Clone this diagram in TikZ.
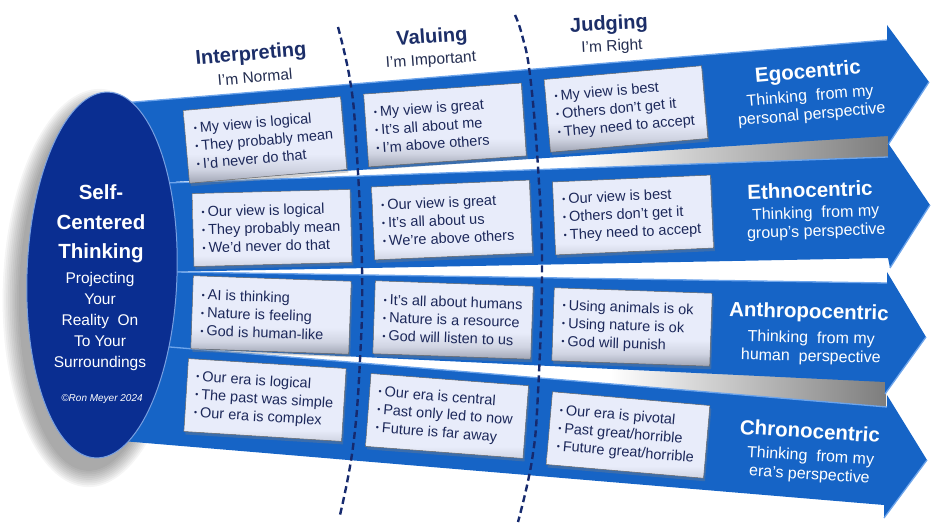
\documentclass[tikz,border=0pt]{standalone}
\usepackage{fontspec}
\setmainfont{Liberation Sans}
\usetikzlibrary{shapes.geometric,shadows}

\definecolor{navy}{RGB}{22,42,110}
\definecolor{hdrc}{RGB}{28,46,104}
\definecolor{subc}{RGB}{35,45,80}
\definecolor{arrowc}{RGB}{22,100,198}
\definecolor{arrowhl}{RGB}{110,165,235}
\definecolor{ellc}{RGB}{10,46,145}
\definecolor{ellrim}{RGB}{120,160,225}
\definecolor{celltop}{RGB}{232,236,250}
\definecolor{cellmid}{RGB}{208,212,226}
\definecolor{cellbot}{RGB}{160,165,180}
\definecolor{celltext}{RGB}{28,40,90}
\definecolor{shgray}{RGB}{125,125,125}

\pgfdeclareverticalshading{cellshadeA}{100bp}{color(0bp)=(cellbot); color(25bp)=(cellbot); color(33bp)=(cellmid); color(42bp)=(celltop); color(75bp)=(celltop); color(100bp)=(celltop)}
\pgfdeclareverticalshading{cellshadeB}{100bp}{color(0bp)=(cellmid); color(25bp)=(cellmid); color(32bp)=(celltop); color(75bp)=(celltop); color(100bp)=(celltop)}

\newcommand{\bul}{{\fontsize{9}{9}\selectfont\raisebox{1.5pt}{•}}\hspace{3pt}}
\newcommand{\cellt}[3]{\begin{minipage}{140pt}\raggedright\mbox{\bul #1}\\\mbox{\bul #2}\\\mbox{\bul #3}\end{minipage}}

\tikzset{
  cellbase/.style={draw=gray!80!black, line width=0.5pt, shade, minimum width=158pt, minimum height=73pt, inner sep=0pt, text=celltext, font=\fontsize{14.5}{18}\selectfont, drop shadow={shadow xshift=1.5pt, shadow yshift=-3pt, opacity=0.35}},
  cellA/.style={cellbase, shading=cellshadeA},
  cellB/.style={cellbase, shading=cellshadeB},
  hdr/.style={font=\fontsize{20}{24}\selectfont\bfseries, text=hdrc},
  hsub/.style={font=\fontsize{15.5}{18}\selectfont, text=subc},
  rlab/.style={font=\fontsize{20.5}{24}\selectfont\bfseries, text=white},
  rsub/.style={font=\fontsize{16}{18.5}\selectfont, text=white, align=center},
  arrowbody/.style={fill=arrowc},
  hl/.style={draw=arrowhl, line width=1.3pt},
  divider/.style={draw=navy, line width=2.4pt, dash pattern=on 7pt off 4pt},
}

\begin{document}
\begin{tikzpicture}[x=1pt,y=-1pt]
\useasboundingbox (0,0) rectangle (945,529);

% soft shadow of the ellipse
\foreach \k in {0,...,9}{
  \fill[black,opacity=0.04,rotate around={-2:(94,288)}] (94,288) ellipse [x radius={75+1.8*\k}, y radius={183+1.8*\k}];
}

% shadows in the gaps between arrows
\shade[left color=white, right color=shgray] (570,152) -- (888,131) -- (888,160) -- (570,175) -- cycle;
\shade[left color=white, right color=shgray] (610,364) -- (886,377) -- (886,409) -- (610,389) -- cycle;

% arrows
\fill[arrowbody] (110,104) -- (887,40) -- (887,25) -- (929,82) -- (888,145) -- (888,136) -- (110,186) -- cycle;
\draw[hl] (110,104) -- (887,40);
\draw[hl] (929,82) -- (888,145);

\fill[arrowbody] (110,185) -- (888,157) -- (888,143) -- (930,205) -- (890,268) -- (888,258) -- (110,273) -- cycle;
\draw[hl] (110,185) -- (888,157);
\draw[hl] (930,205) -- (890,268);

\fill[arrowbody] (110,271) -- (887,283) -- (887,272) -- (926,337) -- (885,394) -- (885,382) -- (110,345) -- cycle;
\draw[hl] (110,271) -- (887,283);
\draw[hl] (926,337) -- (885,394);

\fill[arrowbody] (110,342) -- (887,407) -- (887,395) -- (927,460) -- (884,518) -- (884,505) -- (110,440) -- cycle;
\draw[hl] (110,342) -- (887,407);
\draw[hl] (927,460) -- (884,518);

% dashed dividers
\draw[divider] plot[smooth, tension=0.7] coordinates {(338,27) (350,80) (356,140) (362,267) (360,360) (353,447) (340,515)};
\draw[divider] plot[smooth, tension=0.7] coordinates {(515,15) (522,35) (530,75) (538,167) (542,267) (538,393) (532,460) (518,522)};

% cells
\node[cellA, rotate=5] (b11) at (265,140) {\cellt{My view is logical}{They probably mean}{I'd never do that}};
\node[cellA, rotate=4] (b12) at (445,125) {\cellt{My view is great}{It's all about me}{I'm above others}};
\node[cellA, rotate=5] (b13) at (626,109) {\cellt{My view is best}{Others don't get it}{They need to accept}};
\node[cellB, rotate=1.5] (b21) at (272,228) {\cellt{Our view is logical}{They probably mean}{We'd never do that}};
\node[cellB, rotate=2.5] (b22) at (452,220) {\cellt{Our view is great}{It's all about us}{We're above others}};
\node[cellB, rotate=2.5] (b23) at (633,215) {\cellt{Our view is best}{Others don't get it}{They need to accept}};
\node[cellA, rotate=-2] (b31) at (271,315) {\cellt{AI is thinking}{Nature is feeling}{God is human-like}};
\node[cellA, rotate=-2] (b32) at (453,320) {\cellt{It's all about humans}{Nature is a resource}{God will listen to us}};
\node[cellA, rotate=-2] (b33) at (632,327) {\cellt{Using animals is ok}{Using nature is ok}{God will punish}};
\node[cellB, rotate=-3.6] (b41) at (265,400) {\cellt{Our era is logical}{The past was simple}{Our era is complex}};
\node[cellB, rotate=-4.4] (b42) at (447,416) {\cellt{Our era is central}{Past only led to now}{Future is far away}};
\node[cellB, rotate=-5] (b43) at (628,435) {\cellt{Our era is pivotal}{Past great/horrible}{Future great/horrible}};

% arrow labels
\node[rlab, rotate=5] (ego) at (808,73) {Egocentric};
\node[rsub, rotate=5] (egoS) at (811,106) {Thinking~ from my\\personal perspective};
\node[rlab, rotate=2] (eth) at (810,190) {Ethnocentric};
\node[rsub, rotate=2] (ethS) at (816,223) {Thinking~ from my\\group's perspective};
\node[rlab, rotate=-1.5] (ant) at (809,313) {Anthropocentric};
\node[rsub, rotate=-1.5] (antS) at (811,348) {Thinking~ from my\\human~ perspective};
\node[rlab, rotate=-3.5] (chr) at (810,431) {Chronocentric};
\node[rsub, rotate=-3.5] (chrS) at (810,466) {Thinking~ from my\\era's perspective};

% central ellipse
\node[ellipse, draw=ellrim, line width=1pt, fill=ellc, minimum width=150pt, minimum height=366pt, rotate=-2, inner sep=0pt] (ctr) at (102,275) {};
\node[font=\fontsize{20.5}{29.5}\selectfont\bfseries, text=white, align=center] (ctrA) at (101,224) {Self-\\Centered\\Thinking};
\node[font=\fontsize{15.5}{21}\selectfont, text=white, align=center] (ctrB) at (100,321.5) {Projecting\\Your\\Reality~ On\\To Your\\Surroundings};
\node[font=\fontsize{10}{12}\selectfont\itshape, text=white] (ctrC) at (102,399) {©Ron Meyer 2024};

% column headers
\node[hdr, rotate=5] (h1) at (251,55) {Interpreting};
\node[hsub, rotate=5] (h1s) at (255,77) {I'm Normal};
\node[hdr, rotate=4] (h2) at (432,38) {Valuing};
\node[hsub, rotate=4] (h2s) at (431,61) {I'm Important};
\node[hdr, rotate=3] (h3) at (609,25) {Judging};
\node[hsub, rotate=3] (h3s) at (612,47) {I'm Right};
\end{tikzpicture}
\end{document}
